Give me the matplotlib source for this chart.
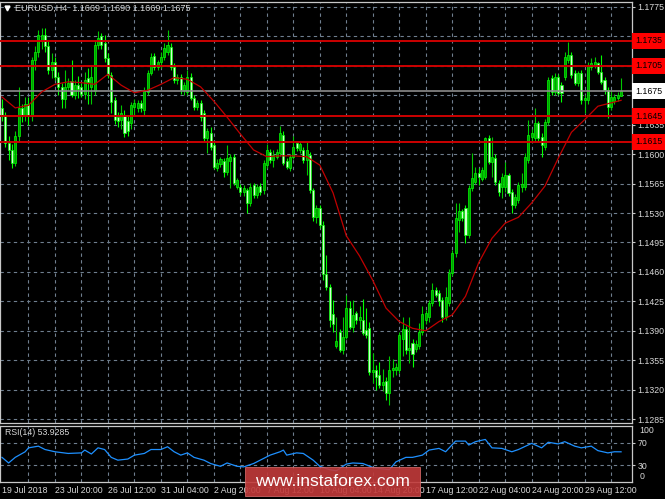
import matplotlib
matplotlib.use('Agg')
import matplotlib.pyplot as plt
from matplotlib import font_manager
from matplotlib.patches import Rectangle
from matplotlib.lines import Line2D

# EURUSD H4 candles (oldest first)
opens = [1.1655, 1.1647, 1.1613, 1.1605, 1.1590, 1.1622, 1.1655, 1.1645, 1.1660, 1.1645,
         1.1712, 1.1722, 1.1735, 1.1742, 1.1728, 1.1700, 1.1710, 1.1692, 1.1680, 1.1665,
         1.1680, 1.1687, 1.1670, 1.1682, 1.1680, 1.1672, 1.1690, 1.1680, 1.1675, 1.1730,
         1.1740, 1.1732, 1.1714, 1.1694, 1.1664, 1.1644, 1.1641, 1.1647, 1.1640, 1.1637,
         1.1656, 1.1655, 1.1661, 1.1653, 1.1674, 1.1697, 1.1717, 1.1704, 1.1709, 1.1716,
         1.1722, 1.1727, 1.1704, 1.1688, 1.1692, 1.1676, 1.1674, 1.1692, 1.1667, 1.1656,
         1.1661, 1.1649, 1.1619, 1.1625, 1.1611, 1.1584, 1.1588, 1.1592, 1.1579, 1.1592,
         1.1597, 1.1561, 1.1561, 1.1555, 1.1557, 1.1542, 1.1563, 1.1551, 1.1562, 1.1557,
         1.1587, 1.1603, 1.1593, 1.1597, 1.1601, 1.1623, 1.1592, 1.1583, 1.1597, 1.1613,
         1.1605, 1.1605, 1.1593, 1.1599, 1.1557, 1.1525, 1.1536, 1.1516, 1.1457, 1.1442,
         1.1410, 1.1372, 1.1389, 1.1367, 1.1383, 1.1417, 1.1395, 1.1411, 1.1403, 1.1403,
         1.1391, 1.1393, 1.1341, 1.1343, 1.1337, 1.1326, 1.1330, 1.1316, 1.1343, 1.1344,
         1.1343, 1.1380, 1.1392, 1.1367, 1.1375, 1.1368, 1.1372, 1.1389, 1.1403, 1.1406,
         1.1423, 1.1439, 1.1435, 1.1427, 1.1406, 1.1423, 1.1459, 1.1482, 1.1522, 1.1532,
         1.1536, 1.1504, 1.1560, 1.1567, 1.1578, 1.1571, 1.1573, 1.1619, 1.1591, 1.1595,
         1.1566, 1.1561, 1.1561, 1.1575, 1.1555, 1.1540, 1.1546, 1.1561, 1.1561, 1.1593,
         1.1620, 1.1619, 1.1637, 1.1621, 1.1608, 1.1638, 1.1691, 1.1674, 1.1692, 1.1682,
         1.1692, 1.1712, 1.1718, 1.1697, 1.1685, 1.1697, 1.1664, 1.1664, 1.1704, 1.1706,
         1.1708, 1.1698, 1.1688, 1.1676, 1.1656, 1.1663, 1.1667, 1.1669]
highs = [1.1665, 1.1650, 1.1622, 1.1612, 1.1628, 1.1680, 1.1660, 1.1668, 1.1668, 1.1715,
         1.1728, 1.1748, 1.1750, 1.1750, 1.1735, 1.1720, 1.1715, 1.1698, 1.1685, 1.1700,
         1.1690, 1.1712, 1.1688, 1.1693, 1.1685, 1.1698, 1.1702, 1.1705, 1.1735, 1.1746,
         1.1744, 1.1742, 1.1720, 1.1698, 1.1668, 1.1650, 1.1658, 1.1652, 1.1645, 1.1662,
         1.1665, 1.1664, 1.1664, 1.1680, 1.1700, 1.1720, 1.1720, 1.1712, 1.1722, 1.1732,
         1.1748, 1.1732, 1.1708, 1.1695, 1.1695, 1.1686, 1.1700, 1.1696, 1.1670, 1.1664,
         1.1664, 1.1652, 1.1631, 1.1632, 1.1615, 1.1594, 1.1597, 1.1596, 1.1611, 1.1600,
         1.1600, 1.1572, 1.1564, 1.1563, 1.1560, 1.1566, 1.1566, 1.1564, 1.1566, 1.1593,
         1.1612, 1.1606, 1.1605, 1.1606, 1.1634, 1.1628, 1.1595, 1.1600, 1.1622, 1.1616,
         1.1615, 1.1608, 1.1614, 1.1602, 1.1560, 1.1540, 1.1540, 1.1520, 1.1480, 1.1446,
         1.1427, 1.1406, 1.1392, 1.1406, 1.1433, 1.1425, 1.1427, 1.1414, 1.1420, 1.1428,
         1.1417, 1.1400, 1.1364, 1.1349, 1.1353, 1.1345, 1.1335, 1.1360, 1.1356, 1.1352,
         1.1388, 1.1406, 1.1396, 1.1406, 1.1380, 1.1379, 1.1399, 1.1420, 1.1415, 1.1427,
         1.1447, 1.1442, 1.1438, 1.1430, 1.1442, 1.1463, 1.1486, 1.1542, 1.1542, 1.1535,
         1.1540, 1.1563, 1.1601, 1.1585, 1.1584, 1.1585, 1.1621, 1.1623, 1.1621, 1.1600,
         1.1569, 1.1578, 1.1591, 1.1578, 1.1558, 1.1553, 1.1567, 1.1578, 1.1601, 1.1641,
         1.1630, 1.1655, 1.1640, 1.1625, 1.1642, 1.1692, 1.1694, 1.1697, 1.1695, 1.1686,
         1.1722, 1.1733, 1.1722, 1.1700, 1.1699, 1.1700, 1.1670, 1.1710, 1.1714, 1.1716,
         1.1710, 1.1718, 1.1692, 1.1680, 1.1676, 1.1672, 1.1674, 1.1690]
lows = [1.1640, 1.1608, 1.1593, 1.1583, 1.1586, 1.1615, 1.1638, 1.1640, 1.1635, 1.1640,
        1.1700, 1.1715, 1.1725, 1.1722, 1.1695, 1.1690, 1.1688, 1.1670, 1.1655, 1.1655,
        1.1676, 1.1668, 1.1665, 1.1667, 1.1668, 1.1665, 1.1660, 1.1660, 1.1670, 1.1725,
        1.1725, 1.1710, 1.1690, 1.1649, 1.1636, 1.1632, 1.1630, 1.1621, 1.1622, 1.1630,
        1.1645, 1.1650, 1.1650, 1.1645, 1.1670, 1.1694, 1.1700, 1.1700, 1.1702, 1.1712,
        1.1718, 1.1700, 1.1685, 1.1684, 1.1672, 1.1670, 1.1670, 1.1664, 1.1652, 1.1652,
        1.1640, 1.1615, 1.1601, 1.1605, 1.1582, 1.1580, 1.1585, 1.1573, 1.1575, 1.1560,
        1.1563, 1.1558, 1.1551, 1.1550, 1.1530, 1.1538, 1.1548, 1.1548, 1.1552, 1.1553,
        1.1583, 1.1590, 1.1585, 1.1594, 1.1598, 1.1587, 1.1582, 1.1580, 1.1594, 1.1604,
        1.1601, 1.1590, 1.1575, 1.1554, 1.1520, 1.1518, 1.1512, 1.1450, 1.1438, 1.1395,
        1.1388, 1.1370, 1.1365, 1.1363, 1.1380, 1.1392, 1.1388, 1.1398, 1.1392, 1.1385,
        1.1382, 1.1338, 1.1328, 1.1320, 1.1322, 1.1318, 1.1308, 1.1302, 1.1335, 1.1338,
        1.1340, 1.1360, 1.1362, 1.1352, 1.1347, 1.1365, 1.1368, 1.1385, 1.1398, 1.1400,
        1.1420, 1.1430, 1.1420, 1.1400, 1.1403, 1.1420, 1.1455, 1.1478, 1.1507, 1.1520,
        1.1494, 1.1500, 1.1556, 1.1564, 1.1563, 1.1568, 1.1570, 1.1588, 1.1573, 1.1563,
        1.1550, 1.1548, 1.1555, 1.1550, 1.1530, 1.1536, 1.1542, 1.1555, 1.1557, 1.1590,
        1.1615, 1.1616, 1.1615, 1.1597, 1.1605, 1.1635, 1.1670, 1.1670, 1.1670, 1.1662,
        1.1688, 1.1708, 1.1690, 1.1682, 1.1681, 1.1660, 1.1649, 1.1660, 1.1700, 1.1702,
        1.1695, 1.1683, 1.1672, 1.1643, 1.1652, 1.1660, 1.1663, 1.1669]
closes = [1.1647, 1.1613, 1.1605, 1.1590, 1.1622, 1.1655, 1.1645, 1.1660, 1.1645, 1.1712,
          1.1722, 1.1742, 1.1742, 1.1728, 1.1700, 1.1710, 1.1692, 1.1680, 1.1665, 1.1680,
          1.1685, 1.1670, 1.1682, 1.1677, 1.1672, 1.1688, 1.1686, 1.1692, 1.1730, 1.1738,
          1.1730, 1.1714, 1.1694, 1.1662, 1.1641, 1.1639, 1.1649, 1.1625, 1.1627, 1.1658,
          1.1661, 1.1661, 1.1655, 1.1676, 1.1697, 1.1716, 1.1704, 1.1709, 1.1716, 1.1726,
          1.1730, 1.1704, 1.1688, 1.1692, 1.1676, 1.1682, 1.1692, 1.1667, 1.1656, 1.1661,
          1.1644, 1.1619, 1.1627, 1.1608, 1.1585, 1.1590, 1.1594, 1.1579, 1.1596, 1.1597,
          1.1566, 1.1569, 1.1555, 1.1560, 1.1542, 1.1561, 1.1551, 1.1561, 1.1555, 1.1590,
          1.1605, 1.1593, 1.1599, 1.1603, 1.1625, 1.1590, 1.1585, 1.1597, 1.1609, 1.1607,
          1.1612, 1.1593, 1.1605, 1.1557, 1.1525, 1.1536, 1.1516, 1.1457, 1.1442, 1.1403,
          1.1398, 1.1378, 1.1367, 1.1383, 1.1417, 1.1395, 1.1409, 1.1403, 1.1406, 1.1387,
          1.1385, 1.1341, 1.1344, 1.1335, 1.1326, 1.1329, 1.1316, 1.1343, 1.1346, 1.1347,
          1.1385, 1.1392, 1.1367, 1.1370, 1.1363, 1.1374, 1.1389, 1.1410, 1.1411, 1.1423,
          1.1439, 1.1433, 1.1425, 1.1406, 1.1430, 1.1459, 1.1482, 1.1524, 1.1532, 1.1524,
          1.1504, 1.1560, 1.1572, 1.1578, 1.1573, 1.1581, 1.1619, 1.1591, 1.1597, 1.1567,
          1.1555, 1.1573, 1.1575, 1.1554, 1.1540, 1.1549, 1.1563, 1.1564, 1.1597, 1.1623,
          1.1625, 1.1637, 1.1619, 1.1611, 1.1638, 1.1688, 1.1674, 1.1692, 1.1673, 1.1673,
          1.1716, 1.1718, 1.1694, 1.1685, 1.1696, 1.1664, 1.1667, 1.1706, 1.1708, 1.1710,
          1.1698, 1.1686, 1.1676, 1.1656, 1.1668, 1.1668, 1.1670, 1.1675]

# red moving average, sampled every 4 bars
ma_idx = [0, 4, 8, 12, 16, 20, 24, 28, 32, 36, 40, 44, 48, 52, 56, 60, 64, 68, 72, 76,
          80, 84, 88, 92, 96, 100, 104, 108, 112, 116, 120, 124, 128, 132, 136, 140,
          144, 148, 152, 156, 160, 164, 168, 172, 176, 180, 184, 187]
ma_vals = [1.1668, 1.1655, 1.1658, 1.1674, 1.1683, 1.1686, 1.1685, 1.1683, 1.1695, 1.1682,
           1.1673, 1.1676, 1.1683, 1.1691, 1.1689, 1.1680, 1.1663, 1.1644, 1.1624, 1.1605,
           1.1597, 1.1598, 1.1598, 1.1597, 1.1587, 1.1554, 1.1503, 1.1479, 1.1450, 1.1417,
           1.1401, 1.1393, 1.1390, 1.1401, 1.1409, 1.1431, 1.1471, 1.1500, 1.1518, 1.1525,
           1.1542, 1.1562, 1.1595, 1.1626, 1.1641, 1.1657, 1.1661, 1.1664]

# RSI(14) pane
rsi_idx = [0, 2, 4, 7, 8, 11, 13, 16, 20, 24, 25, 27, 29, 31, 33, 35, 38, 40, 43, 45,
           48, 50, 52, 54, 56, 58, 61, 63, 66, 68, 71, 73, 76, 78, 81, 84, 85, 86, 89, 91,
           94, 96, 99, 101, 104, 106, 109, 112, 114, 117, 119, 122, 124, 127, 129, 132,
           134, 137, 140, 141, 143, 146, 148, 151, 154, 156, 160, 163, 165, 168, 170, 173,
           175, 178, 180, 183, 185, 187]
rsi_vals = [44, 34, 44, 54, 61, 64, 58, 54, 51, 52, 57, 50, 61, 58, 44, 39, 41, 48, 51, 58,
            58, 63, 54, 48, 52, 44, 39, 33, 28, 34, 28, 27, 33, 39, 48, 54, 57, 48, 52, 51,
            39, 28, 22, 20, 32, 34, 33, 26, 24, 22, 36, 44, 44, 48, 57, 60, 54, 73, 73, 66,
            72, 76, 61, 60, 54, 58, 69, 61, 71, 68, 72, 64, 61, 64, 56, 52, 54, 53.9]

red_levels = [1.1735, 1.1705, 1.1645, 1.1615]
last_price = 1.1675
price_ticks = [1.1775, 1.1740, 1.1705, 1.1670, 1.1635, 1.1600, 1.1565, 1.1530,
               1.1495, 1.1460, 1.1425, 1.1390, 1.1355, 1.1320, 1.1285]
time_idx = [0, 16, 32, 48, 64, 80, 96, 112, 128, 144, 160, 176]
time_labels = ['19 Jul 2018', '23 Jul 20:00', '26 Jul 12:00', '31 Jul 04:00',
               '2 Aug 20:00', '7 Aug 12:00', '10 Aug 04:00', '14 Aug 20:00',
               '17 Aug 12:00', '22 Aug 04:00', '24 Aug 20:00', '29 Aug 12:00']

names = {f.name for f in font_manager.fontManager.ttflist}
small_font = 'Liberation Sans Narrow' if 'Liberation Sans Narrow' in names else 'Liberation Sans'
plt.rcParams['font.family'] = [small_font, 'DejaVu Sans']

TXT = '#d8d8d8'
GRID = '#6f7f8f'
FRAME = '#c8c8c8'
W, H = 665, 499


def box(x0, y0, x1, y1):
    return [x0 / W, 1 - y1 / H, (x1 - x0) / W, (y1 - y0) / H]


fig = plt.figure(figsize=(6.65, 4.99), dpi=100, facecolor='black')
ax = fig.add_axes(box(0, 2, 632, 423), facecolor='black')
ax2 = fig.add_axes(box(0, 426, 632, 482), facecolor='black')

n = len(closes)
xs = list(range(n))
grid_x = list(range(8, n, 8))

# grid
for a in (ax, ax2):
    for g in grid_x:
        a.axvline(g, color=GRID, lw=0.8, ls=(0, (3, 3)), zorder=0)
    for s in a.spines.values():
        s.set_color(FRAME)
        s.set_linewidth(0.9)
    a.set_xlim(-0.6, 190.3)

for p in price_ticks:
    ax.axhline(p, color=GRID, lw=0.8, ls=(0, (3, 3)), zorder=0)

# candles
up = [c >= o for o, c in zip(opens, closes)]
wick_c = ['#00c800' if u else '#00ff00' for u in up]
fill_c = ['#00a000' if u else '#d0ffd0' for u in up]
bottoms = [min(o, c) for o, c in zip(opens, closes)]
heights = [max(abs(c - o), 0.00005) for o, c in zip(opens, closes)]
ax.vlines(xs, lows, highs, colors=wick_c, lw=0.8, zorder=2)
ax.bar(xs, heights, bottom=bottoms, width=0.62, color=fill_c,
       edgecolor='#00ff00', linewidth=0.5, zorder=2)

ax.plot(ma_idx, ma_vals, color='#c00000', lw=0.9, zorder=4)

for lv in red_levels:
    ax.axhline(lv, color='#cc0000', lw=1.4, zorder=3)
ax.axhline(last_price, color='#8c8c8c', lw=1.2, zorder=3)

ax.set_ylim(1.12804, 1.17809)
ax.set_xticks([])
ax.yaxis.tick_right()
ax.set_yticks(price_ticks)
ax.set_yticklabels([f'{p:.4f}' for p in price_ticks])
ax.tick_params(axis='y', colors=FRAME, labelcolor=TXT, labelsize=6.3, length=2, pad=2)


def price_tag(y, fc):
    ax.annotate(f'{y:.4f}', xy=(1, y), xycoords=('axes fraction', 'data'),
                xytext=(2.5, 0), textcoords='offset points', ha='left', va='center',
                fontsize=6.3, color='black', annotation_clip=False, zorder=6,
                bbox=dict(boxstyle='square,pad=0.4', fc=fc, ec='none'))


for lv in red_levels:
    price_tag(lv, '#ff0000')
price_tag(last_price, 'white')

# RSI pane
ax2.plot(rsi_idx, rsi_vals, color='#1e90ff', lw=0.9, zorder=3)
for lv in (70, 30):
    ax2.axhline(lv, color=GRID, lw=0.8, ls=(0, (3, 3)), zorder=0)
ax2.set_ylim(0, 100)
ax2.yaxis.tick_right()
ax2.set_yticks([70, 30])
ax2.set_yticklabels(['70', '30'])
ax2.tick_params(axis='y', colors=FRAME, labelcolor=TXT, labelsize=6.3, length=2, pad=2)
ax2.text(1.012, 0.92, '100', transform=ax2.transAxes, color=TXT, fontsize=6.3,
         ha='left', va='center')
ax2.text(1.012, 0.1, '0', transform=ax2.transAxes, color=TXT, fontsize=6.3,
         ha='left', va='center')
ax2.set_xticks(time_idx)
ax2.set_xticklabels(time_labels, ha='left')
ax2.tick_params(axis='x', colors=FRAME, labelcolor=TXT, labelsize=6.3, length=0, pad=3)
ax2.text(0.008, 0.88, 'RSI(14) 53.9285', transform=ax2.transAxes, color=TXT,
         fontsize=6.3, ha='left', va='center')

# header
fig.add_artist(Line2D([7 / W], [1 - 8 / H], marker='v', ms=3.5, color='white',
                      transform=fig.transFigure))
fig.text(15 / W, 1 - 8 / H, 'EURUSD,H4  1.1669 1.1690 1.1669 1.1675', color=TXT,
         fontsize=6.5, ha='left', va='center')

# watermark
fig.add_artist(Rectangle((245 / W, 1 - 496 / H), 175 / W, 29 / H, transform=fig.transFigure,
                         fc='#c23a3a', ec='#d86a6a', lw=0.6, alpha=0.9, zorder=5))
fig.text(332 / W, 1 - 481 / H, 'www.instaforex.com', color='white', fontsize=12.5,
         family='Liberation Sans', ha='center', va='center', zorder=6)

fig.savefig('out.png', dpi=100, facecolor='black')
